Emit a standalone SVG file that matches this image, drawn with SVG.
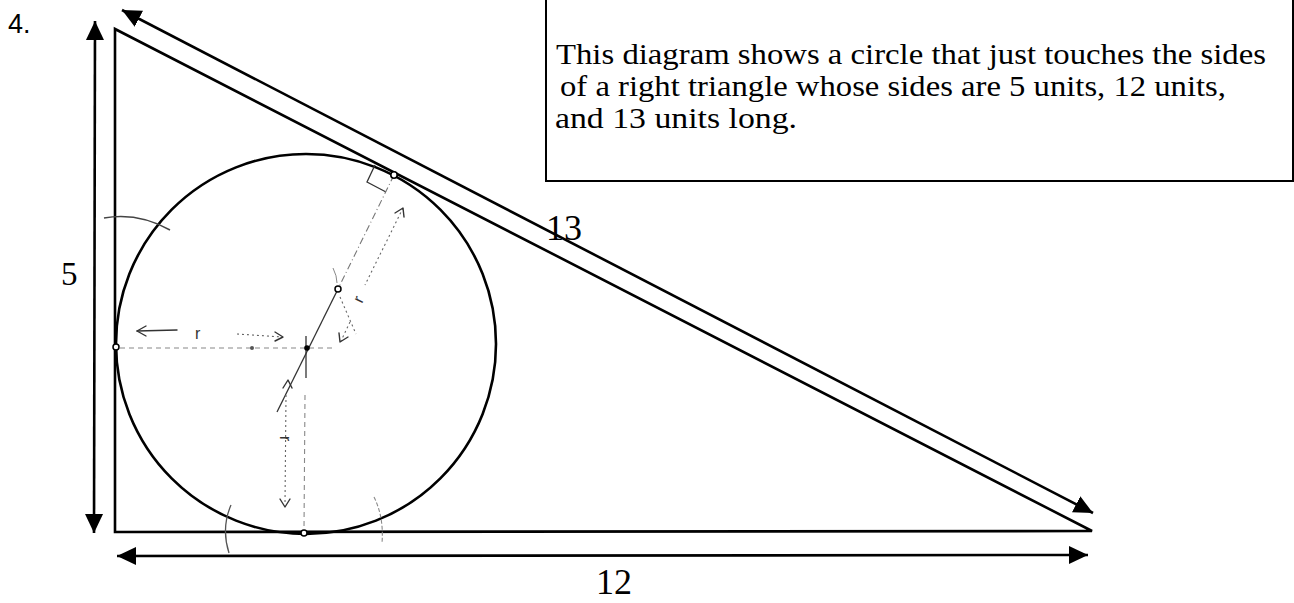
<svg xmlns="http://www.w3.org/2000/svg" width="1294" height="603" viewBox="0 0 1294 603">
<style>
.main{fill:none;stroke:#000;stroke-width:2.6;stroke-linecap:round;stroke-linejoin:miter}
.dim{fill:none;stroke:#000;stroke-width:2.6}
.thin{fill:none;stroke:#333;stroke-width:1.3}
.dash{fill:none;stroke:#888;stroke-width:1.1;stroke-dasharray:5 4}
.dot{fill:none;stroke:#666;stroke-width:1.1;stroke-dasharray:2 3}
.open{fill:none;stroke:#333;stroke-width:1.4;stroke-linecap:round;stroke-linejoin:round}
.serif{font-family:"Liberation Serif","Times New Roman",serif;fill:#000}
.sans{font-family:"Liberation Sans",Arial,sans-serif;fill:#000}
.box{font-family:"Liberation Serif","Times New Roman",serif;fill:#000;font-size:30px}
.rlab{font-family:"Liberation Sans",Arial,sans-serif;fill:#333;font-size:16px}
</style>
<defs>
<marker id="head" markerUnits="userSpaceOnUse" markerWidth="20" markerHeight="20" refX="19" refY="9" orient="auto-start-reverse" viewBox="0 0 20 18">
<path d="M0,0 L19,9 L0,18 z" fill="#000"/>
</marker>
</defs>

<text id="label-4" class="sans" x="8" y="33" font-size="27">4.</text>

<g id="textbox">
<path d="M546,0 V181 H1293 V0" fill="none" stroke="#000" stroke-width="2"/>
<text class="box" x="556" y="64" textLength="710" lengthAdjust="spacingAndGlyphs">This diagram shows a circle that just touches the sides</text>
<text class="box" x="560" y="96" textLength="666" lengthAdjust="spacingAndGlyphs">of a right triangle whose sides are 5 units, 12 units,</text>
<text class="box" x="555" y="128" textLength="242" lengthAdjust="spacingAndGlyphs">and 13 units long.</text>
</g>

<g id="triangle">
<path class="main" d="M115,29 L115,532 L1092,531 Z"/>
</g>

<g id="circle">
<circle class="main" cx="306" cy="344" r="190"/>
</g>

<g id="connectors">
<line class="dim" x1="95" y1="21" x2="94" y2="533" marker-start="url(#head)" marker-end="url(#head)"/>
<line class="dim" x1="122" y1="10" x2="1093" y2="513" marker-start="url(#head)" marker-end="url(#head)"/>
<line class="dim" x1="117" y1="556" x2="1088" y2="555" marker-start="url(#head)" marker-end="url(#head)"/>
</g>

<g id="construction">
<path class="thin" d="M375,165 L367,182 L386,192"/>
<line x1="394" y1="175" x2="338" y2="289" stroke="#777" stroke-width="1.1" stroke-dasharray="7 3 1 3"/>
<line class="thin" x1="338" y1="289" x2="277" y2="412"/>
<line class="dash" x1="120" y1="348" x2="336" y2="348"/>
<line class="thin" x1="306" y1="336" x2="306" y2="378"/>
<line class="dash" x1="305" y1="395" x2="304" y2="530"/>
<path d="M104,218 Q138,212 170,230" fill="none" stroke="#444" stroke-width="1.5"/>
<path d="M231,505 Q221,528 229,553" fill="none" stroke="#555" stroke-width="1.3"/>
<path d="M374,497 Q384,517 382,543" fill="none" stroke="#888" stroke-width="1.1" stroke-dasharray="4 2"/>
<path d="M333,268 Q337,276 337,283" fill="none" stroke="#888" stroke-width="1"/>
<line class="dot" x1="340" y1="297" x2="356" y2="334"/>
<line class="open" x1="137" y1="331" x2="177" y2="330"/>
<path class="open" d="M146,326 L137,331 L146,336"/>
<text class="rlab" x="195" y="339">r</text>
<line class="dot" x1="237" y1="334" x2="282" y2="337"/>
<path class="open" d="M275,332 L283,337 L275,341"/>
<line class="dot" x1="403" y1="208" x2="365" y2="285"/>
<path class="open" d="M395,213 L403,208 L404,217"/>
<text class="rlab" transform="translate(362,304) rotate(-64)">r</text>
<line class="dot" x1="350" y1="322" x2="341" y2="341"/>
<path class="open" d="M339,333 L340,342 L348,337"/>
<path class="open" d="M283,388 L288,380 L292,388"/>
<line class="dot" x1="286" y1="395" x2="285" y2="505"/>
<text class="rlab" transform="translate(280,436) rotate(90)">r</text>
<path class="open" d="M280,499 L285,507 L290,499"/>
<circle cx="394" cy="175" r="3.2" fill="#fff" stroke="#000" stroke-width="1.6"/>
<circle cx="116" cy="347" r="3" fill="#fff" stroke="#000" stroke-width="1.5"/>
<circle cx="304" cy="533" r="3" fill="#fff" stroke="#000" stroke-width="1.5"/>
<circle cx="338" cy="289" r="3" fill="#fff" stroke="#000" stroke-width="1.5"/>
<circle cx="307" cy="348" r="2.8" fill="#000"/>
<circle cx="252" cy="348" r="2" fill="#555"/>
</g>

<text id="label-5" class="serif" x="61" y="285" font-size="33">5</text>
<text id="label-13" class="serif" x="546" y="240" font-size="36">13</text>
<text id="label-12" class="serif" x="596" y="594" font-size="36">12</text>
</svg>
